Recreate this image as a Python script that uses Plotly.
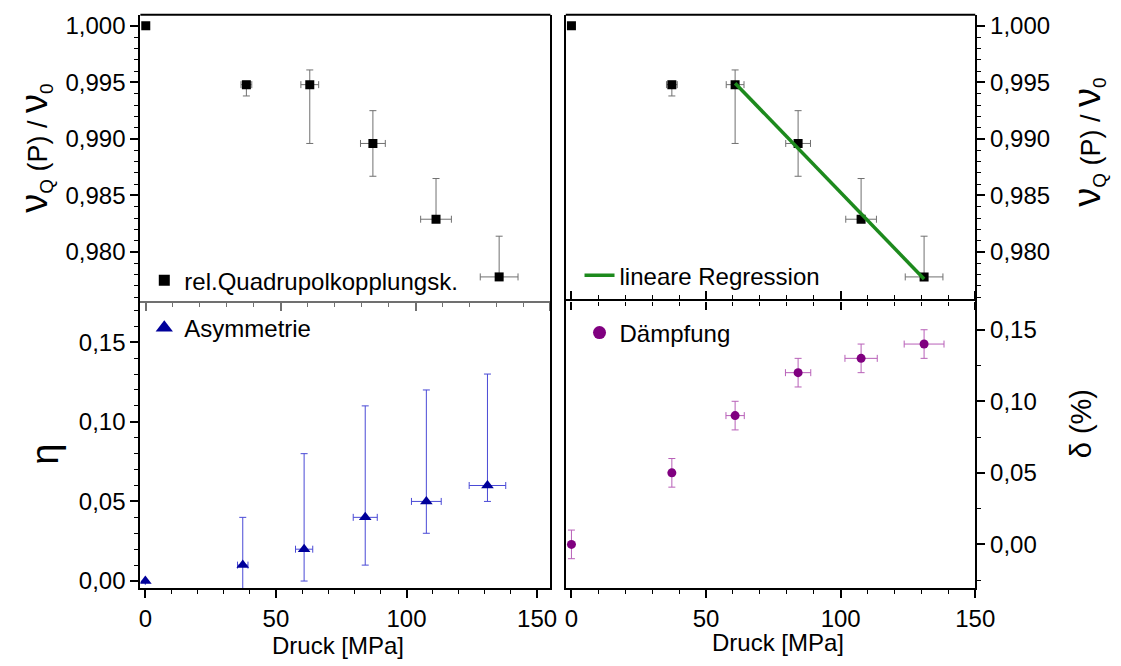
import numpy as np
import plotly.graph_objects as go

# ---------------- data ----------------
pressure = [0, 37.3, 60.8, 84.2, 107.6, 131.0]
pressure_err = [0, 2.0, 3.3, 4.6, 5.7, 7.0]

nu_ratio = [1.000, 0.9948, 0.9948, 0.9896, 0.9829, 0.9778]
nu_err_plus = [0, 0.0003, 0.0013, 0.0029, 0.0036, 0.0036]
nu_err_minus = [0, 0.0010, 0.0052, 0.0029, 0, 0]

eta = [0, 0.01, 0.02, 0.04, 0.05, 0.06]
eta_err_plus = [0, 0.03, 0.06, 0.07, 0.07, 0.07]
eta_err_minus = [0, 0.03, 0.02, 0.03, 0.02, 0.01]

delta = [0, 0.05, 0.09, 0.12, 0.13, 0.14]
delta_err = [0.01, 0.01, 0.01, 0.01, 0.01, 0.01]
delta_x_err = [0, 1.0, 3.4, 4.7, 6.0, 7.4]

fit_from = 2  # linear regression over points 3..6

x_ticks = [0, 50, 100, 150]

# ---------------- figure ----------------
OFF = 8                      # page body margin
W, H = 1121 - OFF, 666 - OFF
FONT = "Liberation Sans, Arial, sans-serif"
BLACK = "#000000"
GREY = "#707070"
NAVY = "#00009a"
BLUE_ERR = "#4a4ad6"
PURPLE = "#800080"
PURPLE_ERR = "#b860b8"
GREEN = "#1d8a1d"


def px_x(p):
    return (p - OFF) / W


def px_y(p):
    return 1 - (p - OFF) / H


L_dom = [px_x(141), px_x(559.3)]
R_dom = [px_x(575), px_x(992.7)]
T_dom = [px_y(302.7), px_y(12.7)]
B_dom = [px_y(593), px_y(302.7)]

fig = go.Figure()


def err(arr_plus, arr_minus, color, w=3.5):
    return dict(type="data", array=arr_plus, arrayminus=arr_minus, symmetric=False,
                color=color, thickness=1, width=w)


# top-left
fig.add_trace(go.Scatter(
    x=pressure, y=nu_ratio, mode="markers", xaxis="x", yaxis="y",
    marker=dict(symbol="square", size=9, color=BLACK),
    error_y=err(nu_err_plus, nu_err_minus, GREY),
    error_x=dict(type="data", array=pressure_err, color=GREY, thickness=1, width=3.5),
    showlegend=False))
fig.add_trace(go.Scatter(
    x=[None], y=[None], mode="markers", xaxis="x", yaxis="y",
    marker=dict(symbol="square", size=11, color=BLACK),
    name="rel.Quadrupolkopplungsk.", legend="legend"))

# top-right
fig.add_trace(go.Scatter(
    x=pressure, y=nu_ratio, mode="markers", xaxis="x2", yaxis="y2",
    marker=dict(symbol="square", size=9, color=BLACK),
    error_y=err(nu_err_plus, nu_err_minus, GREY),
    error_x=dict(type="data", array=pressure_err, color=GREY, thickness=1, width=3.5),
    showlegend=False))

coef = np.polyfit(pressure[fit_from:], nu_ratio[fit_from:], 1)
fit_x = [pressure[fit_from], pressure[-1]]
fit_y = list(np.polyval(coef, fit_x))
fig.add_trace(go.Scatter(
    x=fit_x, y=fit_y, mode="lines", xaxis="x2", yaxis="y2",
    line=dict(color=GREEN, width=3.5),
    name="lineare Regression", legend="legend2"))

# bottom-left
fig.add_trace(go.Scatter(
    x=pressure, y=eta, mode="markers", xaxis="x3", yaxis="y3",
    marker=dict(symbol="triangle-up", size=11, color=NAVY),
    error_y=err(eta_err_plus, eta_err_minus, BLUE_ERR),
    error_x=dict(type="data", array=pressure_err, color=BLUE_ERR, thickness=1, width=3.5),
    showlegend=False))
fig.add_trace(go.Scatter(
    x=[None], y=[None], mode="markers", xaxis="x3", yaxis="y3",
    marker=dict(symbol="triangle-up", size=15, color=NAVY),
    name="Asymmetrie", legend="legend3"))

# bottom-right
fig.add_trace(go.Scatter(
    x=pressure, y=delta, mode="markers", xaxis="x4", yaxis="y4",
    marker=dict(symbol="circle", size=9, color=PURPLE),
    error_y=dict(type="data", array=delta_err, color=PURPLE_ERR, thickness=1, width=3.5),
    error_x=dict(type="data", array=delta_x_err, color=PURPLE_ERR, thickness=1, width=3.5),
    showlegend=False))
fig.add_trace(go.Scatter(
    x=[None], y=[None], mode="markers", xaxis="x4", yaxis="y4",
    marker=dict(symbol="circle", size=13, color=PURPLE),
    name="Dämpfung", legend="legend4"))

tickfont = dict(family=FONT, size=24, color=BLACK)


def xaxis(domain, anchor, rng, labels, linecolor=BLACK, mirror=False, showline=True):
    return dict(domain=domain, anchor=anchor, range=rng, showline=showline,
                linecolor=linecolor, linewidth=2, ticks="outside", ticklen=8,
                tickwidth=1.5, tickcolor=linecolor,
                tickvals=x_ticks, showticklabels=labels, tickfont=tickfont,
                minor=dict(dtick=10, tick0=0, ticks="outside", ticklen=4, tickwidth=1.2,
                           tickcolor=linecolor),
                showgrid=False, zeroline=False, mirror=mirror, fixedrange=True)


def yaxis(domain, anchor, rng, dtick, minor, fmt, side):
    return dict(domain=domain, anchor=anchor, range=rng, side=side, showline=True,
                linecolor=BLACK, linewidth=2, mirror=True, ticks="outside", ticklen=8,
                tickwidth=1.5, tickcolor=BLACK, dtick=dtick, tick0=0, tickformat=fmt,
                tickfont=tickfont,
                minor=dict(dtick=minor, ticks="outside", ticklen=4, tickwidth=1.2,
                           tickcolor=BLACK),
                showgrid=False, zeroline=False, fixedrange=True)


nu_range = [0.97566, 1.00099]
legfont = dict(family=FONT, size=24, color=BLACK)


def leg(x, y):
    return dict(x=px_x(x), y=px_y(y), xanchor="left", yanchor="middle",
                bgcolor="rgba(0,0,0,0)", font=legfont)


fig.update_layout(
    width=W, height=H,
    margin=dict(l=0, r=0, t=0, b=0),
    paper_bgcolor="white", plot_bgcolor="white",
    separators=",.",
    font=dict(family=FONT, size=24, color=BLACK),
    xaxis=xaxis(L_dom, "y", [-2, 150], False, linecolor=GREY),
    yaxis=yaxis(T_dom, "x", nu_range, 0.005, 0.001, ".3f", "left"),
    xaxis2=xaxis(R_dom, "y2", [-2.1, 150], False, showline=False),
    yaxis2=yaxis(T_dom, "x2", nu_range, 0.005, 0.001, ".3f", "right"),
    xaxis3=xaxis(L_dom, "y3", [-1.9, 155.1], True),
    yaxis3=yaxis(B_dom, "x3", [-0.0043, 0.1758], 0.05, 0.01, ".2f", "left"),
    xaxis4=xaxis(R_dom, "y4", [-2.1, 150], True, mirror="ticks"),
    yaxis4=yaxis(B_dom, "x4", [-0.0304, 0.170], 0.05, 0.025, ".2f", "right"),
    legend=leg(145, 282),
    legend2=leg(589, 277),
    legend3=leg(145, 330),
    legend4=leg(589, 335),
    showlegend=True,
)

# top border lines of the upper panels
for xr, yr in (("x domain", "y domain"), ("x2 domain", "y2 domain")):
    fig.add_shape(type="line", xref=xr, yref=yr, x0=0, x1=1, y0=1, y1=1,
                  line=dict(color=BLACK, width=2))


def label(text, x, y, size, angle=0):
    fig.add_annotation(text=text, x=px_x(x), y=px_y(y), xref="paper", yref="paper",
                       xanchor="center", yanchor="middle", textangle=angle,
                       showarrow=False, font=dict(family=FONT, size=size, color=BLACK))


NU = "<span style='font-size:38px'>\u03bd</span>"
ylab = NU + "<sub>Q</sub> (P) / " + NU + "<sub>0</sub>"
label(ylab, 34, 148, 27, -90)
label(ylab, 1108, 142, 27, -90)
label("\u03b7", 43, 458, 38, -90)
label("\u03b4 (%)", 1100, 427, 29, -90)
label("Druck [MPa]", 343, 651, 24)
label("Druck [MPa]", 791, 648, 24)

fig.write_html("out.html")
